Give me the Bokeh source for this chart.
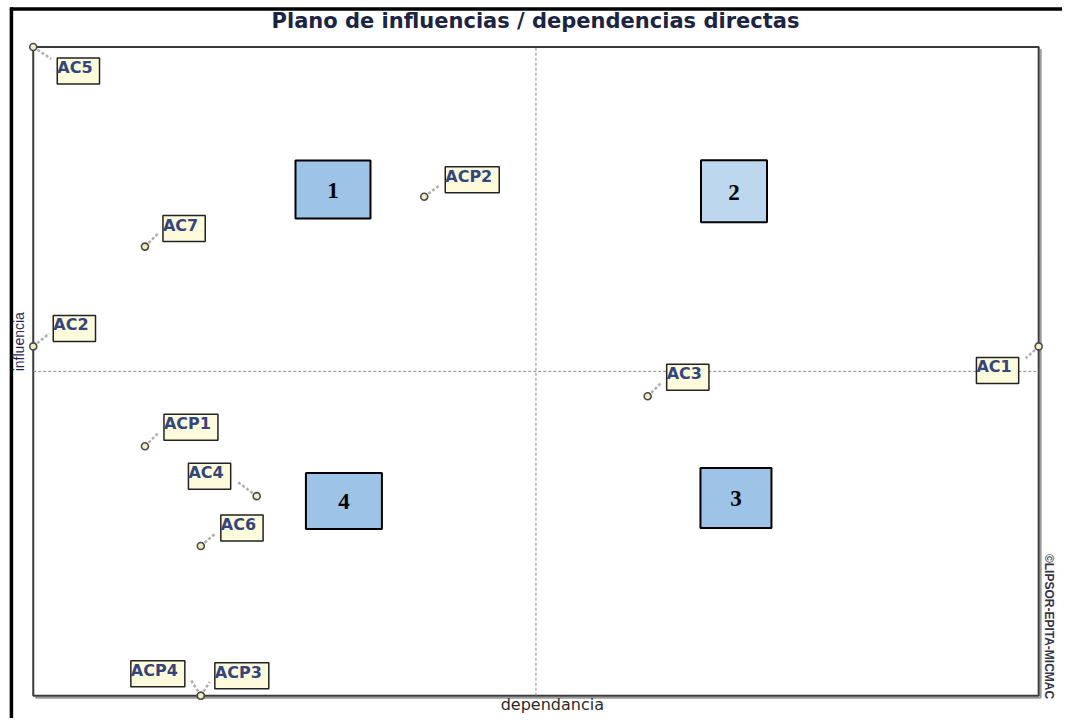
import math
from bokeh.plotting import figure
from bokeh.models import Range1d, Label
from bokeh.core.properties import value
from bokeh.embed import file_html
from bokeh.resources import INLINE

# ---- data (MICMAC direct influence / dependence) ----
names = ["AC5", "ACP2", "AC7", "AC2", "AC1", "AC3", "ACP1", "AC4", "AC6", "ACP4", "ACP3"]
dependencia = [0, 7, 2, 0, 18, 11, 2, 4, 3, 3, 3]
influencia = [13, 10, 9, 7, 7, 6, 5, 4, 3, 0, 0]

x_max, y_max = 18, 13
x_mid, y_mid = 9, 6.5

quadrant_names = ["1", "2", "3", "4"]

title_text = "Plano de influencias / dependencias directas"
xlabel_text = "dependancia"
ylabel_text = "influencia"
credit_text = "\u00a9LIPSOR-EPITA-MICMAC"

# ---- layout (reference-picture pixels, 1070x726) ----
W, H = 1062, 718
RW, RH = 1070, 726
FL, FR, FT, FB = 33, 1046, 47, 703
kx = (FR - FL) / x_max
ky = (FB - FT) / y_max


def dx(px):
    return (px - FL) / kx


def dy(py):
    return (FB - py) / ky


p = figure(width=W, height=H, output_backend="svg", toolbar_location=None,
           x_axis_location=None, y_axis_location=None, min_border=0,
           x_range=Range1d(dx(0), dx(RW)),
           y_range=Range1d(dy(RH), dy(0)))
p.outline_line_color = None
p.background_fill_color = "white"
p.border_fill_color = "white"
p.grid.visible = False

# outer border (left & top)
p.segment(x0=[dx(11), dx(9.5)], y0=[dy(7), dy(8.5)],
          x1=[dx(11), dx(RW + 2)], y1=[dy(RH + 2), dy(8.5)],
          line_color="black", line_width=3.5)

# inner frame shadow + frame
p.segment(x0=[x_max + 2 / kx, 0 + 2 / kx], y0=[y_max - 2 / ky, -2 / ky],
          x1=[x_max + 2 / kx, x_max + 2 / kx], y1=[-2 / ky, -2 / ky],
          line_color="#9a9a9a", line_width=2)
p.quad(left=[0], right=[x_max], bottom=[0], top=[y_max],
       fill_color=None, line_color="#3a3a3a", line_width=2)

# mid dashed lines
p.segment(x0=[x_mid, 0], y0=[0, y_mid], x1=[x_mid, x_max], y1=[y_max, y_mid],
          line_color="#8c8c8c", line_width=1, line_dash="3 2")

# quadrant boxes
quad_cx = [dx(335), dx(739), dx(741), dx(346)]
quad_cy = [dy(191), dy(193), dy(503), dy(506)]
quad_w = [75, 66, 71, 76]
quad_h = [58, 62, 60, 56]
quad_fill = ["#9dc3e6", "#bdd7ee", "#9dc3e6", "#9dc3e6"]
p.rect(x=quad_cx, y=quad_cy, width=quad_w, height=quad_h,
       width_units="screen", height_units="screen",
       fill_color=quad_fill, line_color="black", line_width=2)
p.text(x=quad_cx, y=quad_cy, text=quadrant_names, text_align="center",
       text_baseline="middle", text_font=value("Liberation Serif"),
       text_font_style="bold", text_font_size="23px", text_color="black",
       y_offset=1)

# label placement: side, edge offset x, top offset y (screen px from point)
lab_side = ["r", "r", "r", "r", "l", "r", "r", "l", "r", "l", "r"]
lab_ex = [17, 14, 11, 13, -13, 12, 12, -19, 13, -9, 7]
lab_ty = [11, -30, -31, -31, 11, -32, -32, -33, -31, -35, -33]
lead_x = [18, 16, 13, 16, -13, 14, 14, -20, 15, -10, 9]
lead_y = [12, -12, -13, -13, 12, -14, -14, -15, -13, -16, -14]

# leader lines
lx0, ly0, lx1, ly1 = [], [], [], []
for i in range(len(names)):
    lx0.append(dependencia[i])
    ly0.append(influencia[i])
    lx1.append(dependencia[i] + lead_x[i] / kx)
    ly1.append(influencia[i] - lead_y[i] / ky)
p.segment(x0=lx0, y0=ly0, x1=lx1, y1=ly1, line_color="#b0b0b0",
          line_width=2.5, line_dash="3 2")

# points
p.scatter(x=dependencia, y=influencia, size=7, marker="circle",
          fill_color="#f3efc4", line_color="#4a4a4a", line_width=1.6)

PADX, PADY = 7, 0
for i, n in enumerate(names):
    if lab_side[i] == "r":
        xo = lab_ex[i] + PADX
        align = "left"
    else:
        xo = lab_ex[i] - PADX
        align = "right"
    lab = Label(x=dependencia[i], y=influencia[i], text=n,
                x_offset=xo, y_offset=-(lab_ty[i] + PADY),
                text_align=align, text_baseline="top",
                text_font="DejaVu Sans", text_font_style="bold",
                text_font_size="16px", text_color="#34457a",
                background_fill_color="#fdfbdc", background_fill_alpha=1.0,
                border_line_color="#222222", border_line_width=1.5,
                padding=(PADY, PADX, PADY, PADX))
    p.add_layout(lab)

# title & axis texts
p.add_layout(Label(x=dx(539), y=dy(21), text=title_text, text_align="center",
                   text_baseline="middle", text_font="DejaVu Sans",
                   text_font_style="bold", text_font_size="21px",
                   text_color="#1b2442"))
p.add_layout(Label(x=dx(556), y=dy(712), text=xlabel_text, text_align="center",
                   text_baseline="middle", text_font="DejaVu Sans",
                   text_font_size="16px", text_color="#2a2a2a"))
p.add_layout(Label(x=dx(19), y=dy(345), text=ylabel_text, text_align="center",
                   text_baseline="middle", text_font="Liberation Sans",
                   text_font_size="14px", text_color="#1f2a55",
                   angle=math.pi / 2))
p.add_layout(Label(x=dx(1056), y=dy(633), text=credit_text, text_align="center",
                   text_baseline="middle", text_font="Liberation Sans",
                   text_font_style="bold", text_font_size="12px",
                   text_color="#333344", angle=-math.pi / 2))

open("out.html", "w").write(file_html(p, INLINE))
